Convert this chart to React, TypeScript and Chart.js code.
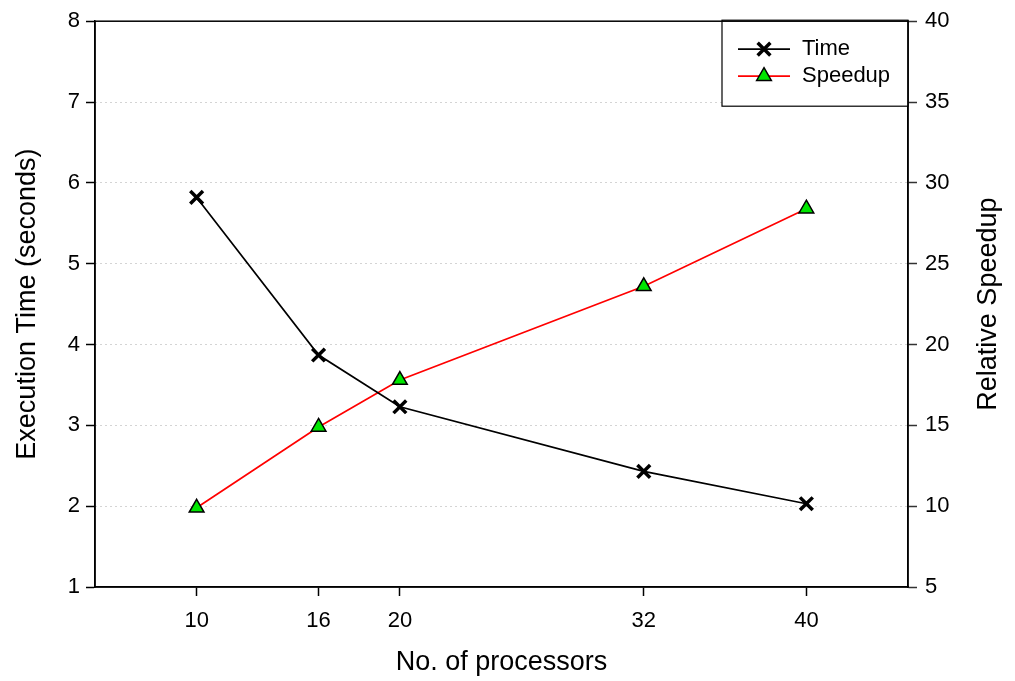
import React, { useEffect, useRef } from 'react';
import { Chart, registerables } from 'chart.js';

Chart.register(...registerables);

const processors = [10, 16, 20, 32, 40];
const timeValues = [5.82, 3.87, 3.23, 2.43, 2.03];
const speedupValues = [9.9, 14.9, 17.8, 23.6, 28.4];
const xTickValues = [10, 16, 20, 32, 40];
const seriesLabels = ['Time', 'Speedup'];
const xTitle = 'No. of processors';
const leftTitle = 'Execution Time (seconds)';
const rightTitle = 'Relative Speedup';

const FONT = "'Liberation Sans', Arial, Helvetica, sans-serif";

function drawMarker(ctx: CanvasRenderingContext2D, style: string, x: number, y: number, r: number, fill: string, stroke: string, bw: number) {
  ctx.save();
  ctx.lineWidth = bw;
  ctx.strokeStyle = stroke;
  ctx.fillStyle = fill;
  ctx.beginPath();
  if (style === 'crossRot') {
    const o = Math.cos(Math.PI / 4) * r;
    ctx.moveTo(x - o, y - o);
    ctx.lineTo(x + o, y + o);
    ctx.moveTo(x - o, y + o);
    ctx.lineTo(x + o, y - o);
    ctx.stroke();
  } else {
    let rad = 0;
    ctx.moveTo(x + Math.sin(rad) * r, y - Math.cos(rad) * r);
    rad += (2 * Math.PI) / 3;
    ctx.lineTo(x + Math.sin(rad) * r, y - Math.cos(rad) * r);
    rad += (2 * Math.PI) / 3;
    ctx.lineTo(x + Math.sin(rad) * r, y - Math.cos(rad) * r);
    ctx.closePath();
    ctx.fill();
    ctx.stroke();
  }
  ctx.restore();
}

const framePlugin = {
  id: 'frameAndLegend',
  afterDraw(chart: any) {
    const ctx: CanvasRenderingContext2D = chart.ctx;
    const a = chart.chartArea;
    ctx.save();
    // legend box
    const w = 186;
    const h = 86;
    const x0 = a.right - w;
    const y0 = a.top - 1;
    ctx.fillStyle = '#ffffff';
    ctx.fillRect(x0, y0, w, h);
    ctx.strokeStyle = '#000000';
    ctx.lineWidth = 1.2;
    ctx.strokeRect(x0, y0, w, h);
    const rows = [y0 + 29, y0 + 56];
    chart.data.datasets.forEach((ds: any, i: number) => {
      const yy = rows[i];
      ctx.strokeStyle = ds.borderColor;
      ctx.lineWidth = ds.borderWidth;
      ctx.beginPath();
      ctx.moveTo(x0 + 16, yy);
      ctx.lineTo(x0 + 68, yy);
      ctx.stroke();
      drawMarker(ctx, ds.pointStyle, x0 + 42, yy, ds.pointRadius, ds.pointBackgroundColor, ds.pointBorderColor, ds.pointBorderWidth);
      ctx.fillStyle = '#000';
      ctx.font = `22px ${FONT}`;
      ctx.textAlign = 'left';
      ctx.textBaseline = 'middle';
      ctx.fillText(ds.label, x0 + 80, yy);
    });
    // frame
    ctx.strokeStyle = '#000';
    ctx.lineWidth = 1.5;
    ctx.strokeRect(a.left, a.top, a.right - a.left, a.bottom - a.top);
    // right title (reads bottom to top)
    ctx.translate(989, (a.top + a.bottom) / 2);
    ctx.rotate(-Math.PI / 2);
    ctx.fillStyle = '#000';
    ctx.font = `27px ${FONT}`;
    ctx.textAlign = 'center';
    ctx.textBaseline = 'middle';
    ctx.fillText(rightTitle, 0, 0);
    ctx.restore();
  },
};

export default function App() {
  const ref = useRef<HTMLCanvasElement | null>(null);
  useEffect(() => {
    if (!ref.current) return;
    const chart = new Chart(ref.current, {
      type: 'line',
      data: {
        datasets: [
          {
            label: seriesLabels[0],
            data: processors.map((p, i) => ({ x: p, y: timeValues[i] })),
            yAxisID: 'y',
            borderColor: '#000000',
            backgroundColor: '#000000',
            borderWidth: 1.7,
            pointStyle: 'crossRot',
            pointRadius: 9,
            pointBorderWidth: 3.5,
            pointBorderColor: '#000000',
            pointBackgroundColor: '#000000',
            tension: 0,
          },
          {
            label: seriesLabels[1],
            data: processors.map((p, i) => ({ x: p, y: speedupValues[i] })),
            yAxisID: 'y2',
            borderColor: '#ff0000',
            backgroundColor: '#00e000',
            borderWidth: 1.7,
            pointStyle: 'triangle',
            pointRadius: 8.5,
            pointBorderWidth: 1.5,
            pointBorderColor: '#000000',
            pointBackgroundColor: '#00e600',
            tension: 0,
          },
        ],
      } as any,
      options: {
        responsive: false,
        animation: false,
        layout: { padding: { top: 18, left: 0, right: 0, bottom: 0 } },
        plugins: {
          legend: { display: false },
          tooltip: { enabled: false },
        },
        scales: {
          x: {
            type: 'linear',
            position: 'bottom',
            min: 5,
            max: 45,
            afterBuildTicks: (s: any) => {
              s.ticks = xTickValues.map((v) => ({ value: v }));
            },
            afterFit: (s: any) => {
              s.height = 94;
            },
            grid: { drawOnChartArea: false, drawTicks: true, tickLength: 9, tickColor: '#000', tickWidth: 1.5 },
            border: { display: true, color: '#000', width: 1.5 },
            ticks: { color: '#000', font: { family: FONT, size: 22 }, padding: 12, maxRotation: 0, autoSkip: false },
            title: {
              display: true,
              text: xTitle,
              color: '#000',
              font: { family: FONT, size: 27 },
              padding: { top: 0, bottom: 2 },
            },
          },
          y: {
            type: 'linear',
            position: 'left',
            min: 1,
            max: 8,
            ticks: { stepSize: 1, color: '#000', font: { family: FONT, size: 22 }, padding: 6 },
            afterFit: (s: any) => {
              s.width = 95;
            },
            grid: {
              drawOnChartArea: true,
              drawTicks: true,
              tickLength: 9,
              lineWidth: 1,
              color: (c: any) => (c.tick && (c.tick.value === 1 || c.tick.value === 8) ? 'rgba(0,0,0,0)' : '#a8a8a8'),
              tickColor: '#000',
              tickWidth: 1.5,
              tickBorderDash: [],
            } as any,
            border: { display: true, color: '#000', width: 1.5, dash: [1, 4] } as any,
            title: {
              display: true,
              text: leftTitle,
              color: '#000',
              font: { family: FONT, size: 27 },
              padding: { top: 11, bottom: 0 },
            },
          },
          y2: {
            type: 'linear',
            position: 'right',
            min: 5,
            max: 40,
            ticks: { stepSize: 5, color: '#000', font: { family: FONT, size: 22 }, padding: 8 },
            afterFit: (s: any) => {
              s.width = 107;
            },
            grid: { drawOnChartArea: false, drawTicks: true, tickLength: 9, tickColor: '#333', tickWidth: 1.5 },
            border: { display: true, color: '#000', width: 1.5 },
            title: { display: false },
          },
        },
      } as any,
      plugins: [framePlugin],
    });
    return () => chart.destroy();
  }, []);
  return (
    <div style={{ position: 'absolute', left: 0, top: 0, width: 1015, height: 681, background: '#fff' }}>
      <canvas ref={ref} width={1015} height={681} style={{ display: 'block' }} />
    </div>
  );
}
